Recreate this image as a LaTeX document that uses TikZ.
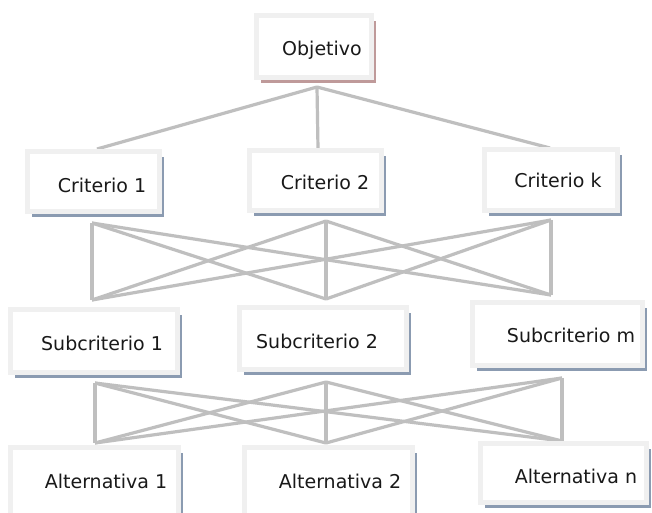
\documentclass[tikz,border=0pt]{standalone}
\usepackage{fontspec}
\setmainfont{DejaVu Sans}
\usetikzlibrary{shadows}
\definecolor{bordergray}{HTML}{F0F0F0}
\definecolor{shblue}{HTML}{8B9BB1}
\definecolor{shrose}{HTML}{BF9A9A}
\definecolor{linegray}{HTML}{BFBFBF}
\tikzset{
  boxshape/.style={draw=bordergray, line width=5pt, fill=white, inner sep=0pt,
    drop shadow={shadow xshift=4.5pt, shadow yshift=-5.5pt, fill=#1, opacity=1}},
  lbl/.style={inner sep=0pt, font=\fontsize{19}{22}\selectfont, text=black!90},
  conn/.style={draw=linegray, line width=3.2pt},
}
\newcommand\mkbox[9]{%
  \node[boxshape=#9, minimum width={#4-#2-5}, minimum height={#5-#3-5}] (#1) at ({(#2+#4)/2},{(#3+#5)/2}) {};
  \node[lbl] (#1t) at (#6,#7) {#8};
}
\begin{document}
\begin{tikzpicture}[x=1pt,y=-1pt]
\useasboundingbox (0,0) rectangle (652,512);
\clip (0,0) rectangle (652,512);
\fill[white] (0,0) rectangle (652,512);

% junction coordinates
\coordinate (oj) at (317,87);
\coordinate (c1top) at (97,149);
\coordinate (c2top) at (318,149);
\coordinate (cktop) at (550,148);

\coordinate (a1) at (92,223);
\coordinate (a2) at (326,221);
\coordinate (a3) at (551,220);
\coordinate (b1) at (92,300);
\coordinate (b2) at (326,299);
\coordinate (b3) at (551,295);

\coordinate (p1) at (95,383);
\coordinate (p2) at (326,382);
\coordinate (p3) at (562,378);
\coordinate (q1) at (95,443);
\coordinate (q2) at (326,443);
\coordinate (q3) at (562,441);

% connectors
\draw[conn] (oj) -- (c1top);
\draw[conn] (oj) -- (c2top);
\draw[conn] (oj) -- (cktop);

\foreach \s in {a1,a2,a3}{
  \foreach \t in {b1,b2,b3}{
    \draw[conn] (\s) -- (\t);
  }
}
\foreach \s in {p1,p2,p3}{
  \foreach \t in {q1,q2,q3}{
    \draw[conn] (\s) -- (\t);
  }
}

% boxes
\mkbox{obj}{254}{13}{374}{80}{322}{50}{Objetivo}{shrose}
\mkbox{c1}{25}{149}{162}{214}{102}{185}{Criterio 1}{shblue}
\mkbox{c2}{247}{148}{384}{213}{325}{182}{Criterio 2}{shblue}
\mkbox{ck}{482}{147}{620}{213}{558}{180}{Criterio k}{shblue}
\mkbox{s1}{8}{307}{180}{375}{102}{343}{Subcriterio 1}{shblue}
\mkbox{s2}{237}{305}{409}{372}{317}{341}{Subcriterio 2}{shblue}
\mkbox{sm}{470}{300}{645}{368}{571}{335}{Subcriterio m}{shblue}
\mkbox{al1}{8}{445}{181}{522}{106}{481}{Alternativa 1}{shblue}
\mkbox{al2}{242}{445}{415}{522}{340}{481}{Alternativa 2}{shblue}
\mkbox{aln}{478}{441}{649}{505}{576}{476}{Alternativa n}{shblue}
\end{tikzpicture}
\end{document}
